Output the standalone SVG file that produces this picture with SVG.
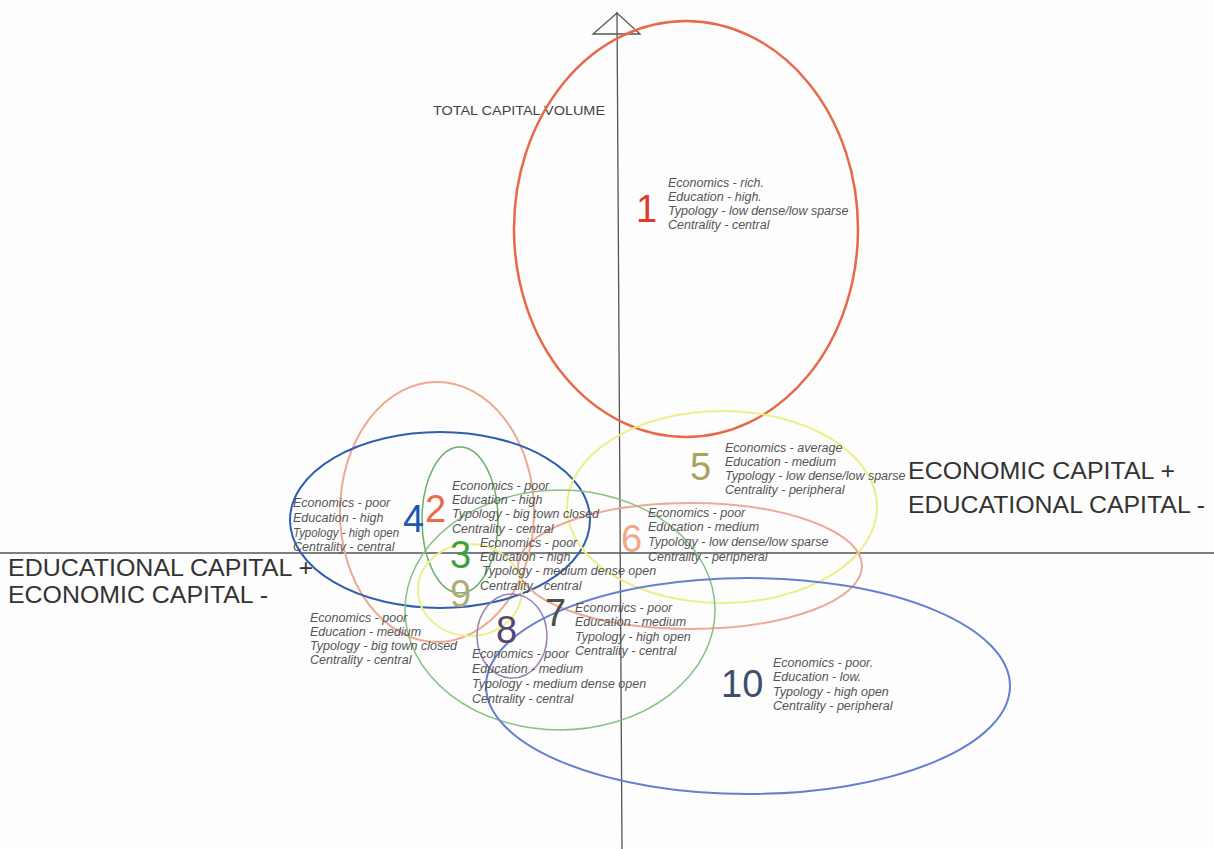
<svg xmlns="http://www.w3.org/2000/svg" width="1214" height="849" viewBox="0 0 1214 849">
<style>
.el{fill:none}
.t{font-family:"Liberation Sans",Arial,sans-serif;font-style:italic;font-size:12.5px;fill:#555}
.num{font-family:"Liberation Sans",Arial,sans-serif;font-size:38px}
.big{font-family:"Liberation Sans",Arial,sans-serif;font-size:23px;fill:#333}
.ax{stroke:#555;stroke-width:1.3;fill:none}
</style>
<rect width="1214" height="849" fill="#fdfdfd"/>
<g id="axes">
<line class="ax" x1="617" y1="12" x2="622" y2="849"/>
<line class="ax" x1="0" y1="553" x2="1214" y2="553"/>
<polygon class="ax" points="617,13 593,34 640,34" fill="#fff"/>
<text x="433" y="115" font-family="Liberation Sans,Arial,sans-serif" font-size="13" fill="#444" textLength="172" lengthAdjust="spacingAndGlyphs">TOTAL CAPITAL VOLUME</text>
<text class="big" x="908" y="479" textLength="267" lengthAdjust="spacingAndGlyphs">ECONOMIC CAPITAL +</text>
<text class="big" x="908" y="513" textLength="297" lengthAdjust="spacingAndGlyphs">EDUCATIONAL CAPITAL -</text>
<text class="big" x="8" y="576" textLength="305" lengthAdjust="spacingAndGlyphs">EDUCATIONAL CAPITAL +</text>
<text class="big" x="8" y="603" textLength="260" lengthAdjust="spacingAndGlyphs">ECONOMIC CAPITAL -</text>
</g>
<g id="connectors"></g>
<g id="n1">
<ellipse class="el" cx="686" cy="229" rx="172" ry="208" stroke="#e8684a" stroke-width="2.5"/>
<text class="num" x="636" y="222" fill="#e03a2a">1</text>
<text class="t" x="668" y="187">Economics - rich.</text>
<text class="t" x="668" y="201">Education - high.</text>
<text class="t" x="668" y="215">Typology - low dense/low sparse</text>
<text class="t" x="668" y="229">Centrality - central</text>
</g>
<g id="n2">
<ellipse class="el" cx="437" cy="512" rx="97" ry="130" stroke="#eeaa90" stroke-width="2"/>
</g>
<g id="n4">
<ellipse class="el" cx="440" cy="520" rx="150" ry="88" stroke="#2f5eae" stroke-width="2"/>
</g>
<g id="n3">
<ellipse class="el" cx="460" cy="520" rx="38" ry="73" stroke="#6ab06a" stroke-width="1.5"/>
</g>
<g id="n5">
<ellipse class="el" cx="722" cy="507" rx="155" ry="96" stroke="#eeee88" stroke-width="2"/>
</g>
<g id="n6">
<ellipse class="el" cx="690" cy="566" rx="172" ry="63" stroke="#eeaa98" stroke-width="2"/>
</g>
<g id="n7">
<ellipse class="el" cx="560" cy="610" rx="155" ry="120" stroke="#88c088" stroke-width="1.5"/>
</g>
<g id="n9">
<ellipse class="el" cx="470" cy="590" rx="52" ry="46" stroke="#eeee90" stroke-width="2"/>
</g>
<g id="n8">
<ellipse class="el" cx="512" cy="636" rx="35" ry="42" stroke="#9a80b0" stroke-width="1.5"/>
</g>
<g id="n10">
<ellipse class="el" cx="748" cy="686" rx="262" ry="108" stroke="#6680d0" stroke-width="2"/>
</g>
<g id="labels">
<g id="l5">
<text class="num" x="690" y="480" fill="#a8a460">5</text>
<text class="t" x="725" y="452">Economics - average</text>
<text class="t" x="725" y="466">Education - medium</text>
<text class="t" x="725" y="480">Typology - low dense/low sparse</text>
<text class="t" x="725" y="494">Centrality - peripheral</text>
</g>
<g id="l6">
<text class="num" x="621" y="552" fill="#f0a88a">6</text>
<text class="t" x="648" y="517">Economics - poor</text>
<text class="t" x="648" y="531">Education - medium</text>
<text class="t" x="648" y="546">Typology - low dense/low sparse</text>
<text class="t" x="648" y="561">Centrality - peripheral</text>
</g>
<g id="l4">
<text class="num" x="403" y="532" fill="#1e55b0">4</text>
<text class="t" x="293" y="507">Economics - poor</text>
<text class="t" x="293" y="522">Education - high</text>
<text class="t" x="293" y="537" textLength="106" lengthAdjust="spacingAndGlyphs">Typology - high open</text>
<text class="t" x="293" y="551">Centrality - central</text>
</g>
<g id="l2">
<text class="num" x="425" y="522" fill="#ec6a4a">2</text>
<text class="t" x="452" y="490">Economics - poor</text>
<text class="t" x="452" y="504">Education - high</text>
<text class="t" x="452" y="518">Typology - big town closed</text>
<text class="t" x="452" y="533">Centrality - central</text>
</g>
<g id="l3">
<text class="num" x="450" y="568" fill="#3aa040">3</text>
<text class="t" x="480" y="547">Economics - poor</text>
<text class="t" x="480" y="561">Education - high</text>
<text class="t" x="482" y="575">Typology - medium dense open</text>
<text class="t" x="480" y="590">Centrality - central</text>
</g>
<g id="l9">
<text class="num" x="450" y="607" fill="#b0aa78">9</text>
<text class="t" x="310" y="622">Economics - poor</text>
<text class="t" x="310" y="636">Education - medium</text>
<text class="t" x="310" y="650">Typology - big town closed</text>
<text class="t" x="310" y="664">Centrality - central</text>
</g>
<g id="l8">
<text class="num" x="496" y="643" fill="#54466e">8</text>
<text class="t" x="472" y="658">Economics - poor</text>
<text class="t" x="472" y="673">Education - medium</text>
<text class="t" x="472" y="688">Typology - medium dense open</text>
<text class="t" x="472" y="703">Centrality - central</text>
</g>
<g id="l7">
<text class="num" x="545" y="626" fill="#4a5048">7</text>
<text class="t" x="575" y="612">Economics - poor</text>
<text class="t" x="575" y="626">Education - medium</text>
<text class="t" x="575" y="641">Typology - high open</text>
<text class="t" x="575" y="655">Centrality - central</text>
</g>
<g id="l10">
<text class="num" x="721" y="697" fill="#3e4e6e">10</text>
<text class="t" x="773" y="667">Economics - poor.</text>
<text class="t" x="773" y="681">Education - low.</text>
<text class="t" x="773" y="696">Typology - high open</text>
<text class="t" x="773" y="710">Centrality - peripheral</text>
</g>
</g>
</svg>
